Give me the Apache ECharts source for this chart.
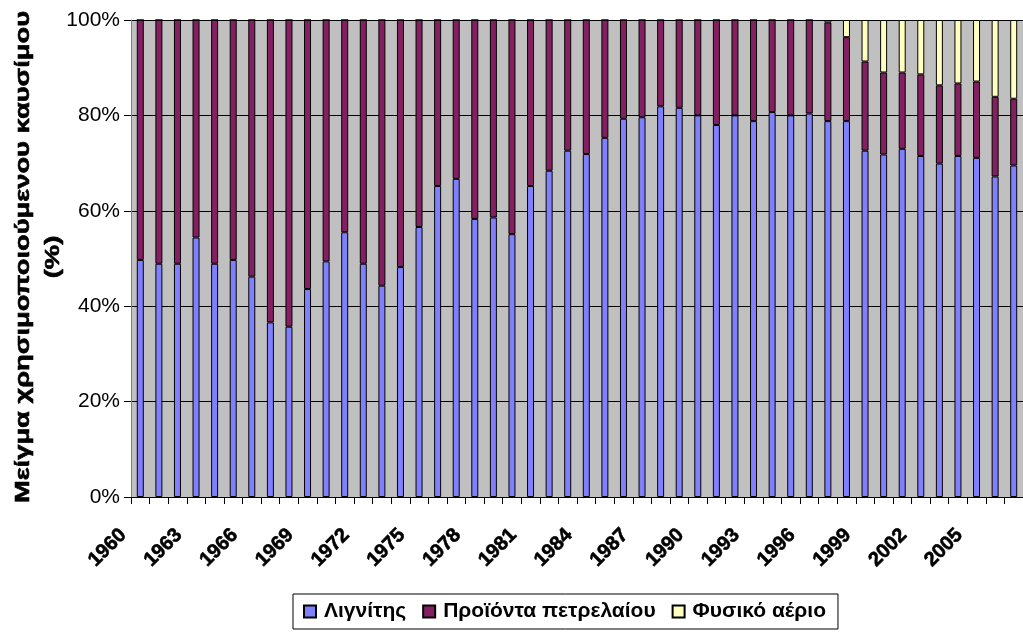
<!DOCTYPE html>
<html>
<head>
<meta charset="utf-8">
<title>Μείγμα καυσίμου</title>
<script src="https://cdn.jsdelivr.net/npm/echarts@6/dist/echarts.min.js"></script>
<style>
  html, body { margin: 0; padding: 0; background: #fff; }
  #chart { width: 1023px; height: 632px; }
</style>
</head>
<body>
<div id="chart"></div>
<script>
// Fuel mix share (%) per year, 1960–2007
const years = [];
for (let y = 1960; y <= 2007; y++) years.push(String(y));

const lignite = [49.7, 48.9, 48.9, 54.4, 48.9, 49.7, 46.2, 36.6, 35.7, 43.6,
                 49.4, 55.5, 48.9, 44.3, 48.2, 56.6, 65.2, 66.7, 58.3, 58.6,
                 55.1, 65.2, 68.4, 72.6, 71.9, 75.3, 79.3, 79.6, 81.9, 81.6,
                 80.0, 78.0, 80.0, 78.8, 80.7, 80.0, 80.4, 78.8, 78.8, 72.6,
                 71.8, 73.0, 71.5, 69.9, 71.5, 71.1, 67.2, 69.5];

const oil = [50.3, 51.1, 51.1, 45.6, 51.1, 50.3, 53.8, 63.4, 64.3, 56.4,
             50.6, 44.5, 51.1, 55.7, 51.8, 43.4, 34.8, 33.3, 41.7, 41.4,
             44.9, 34.8, 31.6, 27.4, 28.1, 24.7, 20.7, 20.4, 18.1, 18.4,
             20.0, 22.0, 20.0, 21.2, 19.3, 20.0, 19.6, 20.7, 17.6, 18.7,
             17.2, 16.0, 17.1, 16.4, 15.2, 16.0, 16.7, 14.0];

const gas = [0, 0, 0, 0, 0, 0, 0, 0, 0, 0,
             0, 0, 0, 0, 0, 0, 0, 0, 0, 0,
             0, 0, 0, 0, 0, 0, 0, 0, 0, 0,
             0, 0, 0, 0, 0, 0, 0, 0.5, 3.6, 8.7,
             11.0, 11.0, 11.4, 13.7, 13.3, 12.9, 16.1, 16.5];

const seriesNames = ['Λιγνίτης', 'Προϊόντα πετρελαίου', 'Φυσικό αέριο'];
const yTicks = [0, 20, 40, 60, 80, 100];
const yearLabelStep = 3;

const FONT = 'Liberation Sans, Arial, sans-serif';

const chart = echarts.init(document.getElementById('chart'), null, { renderer: 'canvas' });

function barSeries(name, data, color) {
  return {
    name: name,
    type: 'bar',
    stack: 'mix',
    data: data,
    barWidth: 7,
    itemStyle: { color: color, borderColor: '#000', borderWidth: 1 },
    emphasis: { disabled: true },
    animation: false
  };
}

chart.setOption({
  animation: false,
  backgroundColor: '#ffffff',
  textStyle: { fontFamily: FONT },
  grid: {
    left: 131, top: 20, width: 898, height: 477,
    show: true, backgroundColor: '#C0C0C0', borderWidth: 0
  },
  legend: {
    left: 293, top: 594,
    data: seriesNames,
    icon: 'rect',
    itemWidth: 12, itemHeight: 12,
    itemGap: 16,
    padding: [7, 12, 7, 10],
    borderColor: '#000', borderWidth: 1,
    backgroundColor: '#fff',
    formatter: function (name) { return '{t|' + name + '}'; },
    textStyle: {
      color: '#000',
      rich: {
        t: { fontFamily: FONT, fontWeight: 'bold', fontSize: 21, color: '#000', padding: [0, 0, 0, 3] }
      }
    },
    selectedMode: false
  },
  xAxis: {
    type: 'category',
    data: years,
    boundaryGap: true,
    axisLine: { show: true, lineStyle: { color: '#000', width: 1 } },
    axisTick: { show: true, interval: 0, length: 7, lineStyle: { color: '#000' } },
    axisLabel: { show: false },
    splitLine: { show: false }
  },
  yAxis: {
    type: 'value',
    min: yTicks[0], max: yTicks[yTicks.length - 1], interval: 20,
    axisLine: { show: true, lineStyle: { color: '#808080', width: 1 } },
    axisTick: { show: true, length: 7, lineStyle: { color: '#000' } },
    axisLabel: {
      formatter: '{value}%',
      color: '#000',
      fontFamily: FONT,
      fontSize: 21,
      margin: 11
    },
    splitLine: { show: true, lineStyle: { color: '#000', width: 1 } }
  },
  series: [
    barSeries(seriesNames[0], lignite, '#8080FF'),
    barSeries(seriesNames[1], oil, '#842062'),
    barSeries(seriesNames[2], gas, '#FFFFC0')
  ]
});

// Axis title and slanted year labels, placed from the axis scales
const baseY = chart.convertToPixel({ yAxisIndex: 0 }, 0);
const graphics = [{
  type: 'text',
  x: 38, y: 257,
  rotation: Math.PI / 2,
  scaleX: 1.3,
  style: {
    text: 'Μείγμα χρησιμοποιούμενου καυσίμου\n(%)',
    fontFamily: FONT,
    fontWeight: 'bold',
    fontSize: 21,
    fill: '#000',
    stroke: '#000',
    lineWidth: 0.6,
    align: 'center',
    verticalAlign: 'middle',
    lineHeight: 30
  }
}];
years.forEach(function (yr, i) {
  if (i % yearLabelStep !== 0) return;
  const x = chart.convertToPixel({ xAxisIndex: 0 }, yr);
  graphics.push({
    type: 'text',
    x: x - 17, y: baseY + 35,
    rotation: Math.PI / 4,
    style: {
      text: yr,
      fontFamily: FONT,
      fontWeight: 'bold',
      fontSize: 20,
      fill: '#000',
      stroke: '#000',
      lineWidth: 0.6,
      align: 'right',
      verticalAlign: 'middle'
    }
  });
});
chart.setOption({ graphic: graphics });
</script>
</body>
</html>
